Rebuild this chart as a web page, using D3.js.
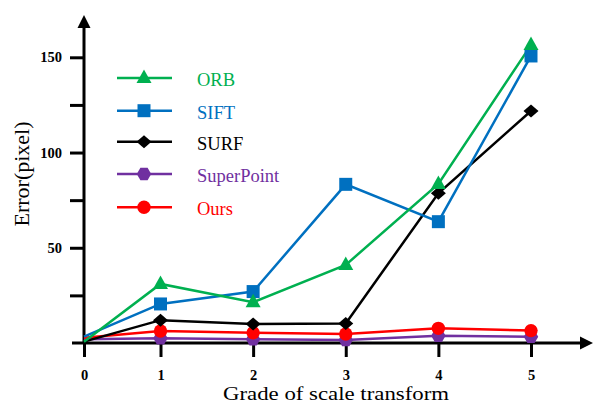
<!DOCTYPE html>
<html><head><meta charset="utf-8">
<script src="https://cdn.jsdelivr.net/npm/d3@7"></script>
<style>
html,body{margin:0;padding:0;background:#fff;}
svg{display:block;}
text{font-family:"Liberation Serif","Times New Roman",serif;}
</style></head>
<body><svg id="c" width="593" height="404"></svg>
<script>
const grades = [0, 1, 2, 3, 4, 5];
const seriesNames = ["ORB", "SIFT", "SURF", "SuperPoint", "Ours"];
const orb = [0.7, 31, 21.4, 41, 83.5, 156.4];
const sift = [3.3, 20.5, 27, 83.3, 63.7, 150.7];
const surf = [0.7, 12, 10, 10.3, 78.6, 121.8];
const superPoint = [2, 2.5, 2, 1.6, 3.8, 3.3];
const ours = [2.8, 6.3, 5.4, 4.7, 7.7, 6.5];
const yTicks = [25, 50, 75, 100, 125, 150];
const yLabels = [50, 100, 150];
const xTicks = [0, 1, 2, 3, 4, 5];

const colors = ["#00B050", "#0070C0", "#000000", "#7030A0", "#FF0000"];
const data = [orb, sift, surf, superPoint, ours];

const svg = d3.select("#c");
const x = d3.scaleLinear().domain([0, 1, 5]).range([84, 160.5, 531]);
const y = d3.scaleLinear().domain([0, 150]).range([343, 57.3]);

function polyPath(n, r, rot){
  const pts = d3.range(n).map(i => {const a = rot + 2*Math.PI/n*i; return [r*Math.cos(a), r*Math.sin(a)];});
  return "M" + pts.map(p => p.map(v => v.toFixed(2)).join(",")).join("L") + "Z";
}
function markerPath(i){
  switch(i){
    case 0: return "M0,-8.5L7.5,5L-7.5,5Z";
    case 1: return "M-6.5,-6.5H6.5V6.5H-6.5Z";
    case 2: return "M0,-6.5L7.5,0L0,6.5L-7.5,0Z";
    case 3: return polyPath(6, 7.2, 0);
    default: return d3.symbol().type(d3.symbolCircle).size(140)();
  }
}

// Axes
const yAxis = d3.axisLeft(y).tickValues(yTicks).tickSize(14).tickSizeOuter(0)
  .tickFormat(d => yLabels.includes(d) ? d : "").tickPadding(8);
const gy = svg.append("g").attr("transform", "translate(84,0)").call(yAxis);
gy.select(".domain").remove();
gy.selectAll(".tick line").attr("stroke", "#000").attr("stroke-width", 3);
gy.selectAll(".tick text").attr("font-size", 14.5).attr("font-weight", "bold")
  .attr("font-family", "Liberation Serif, serif").attr("fill", "#000");

const xAxis = d3.axisBottom(x).tickValues(xTicks).tickSize(14).tickSizeOuter(0)
  .tickPadding(13).tickFormat(d3.format("d"));
const gx = svg.append("g").attr("transform", "translate(0,343)").call(xAxis);
gx.select(".domain").remove();
gx.selectAll(".tick line").attr("stroke", "#000").attr("stroke-width", 3);
gx.selectAll(".tick text").attr("font-size", 14.5).attr("font-weight", "bold")
  .attr("font-family", "Liberation Serif, serif").attr("fill", "#000");

// axis lines with arrows
svg.append("line").attr("x1", 84).attr("x2", 84).attr("y1", 343).attr("y2", 24)
  .attr("stroke", "#000").attr("stroke-width", 3);
svg.append("path").attr("d", "M84,15 L77.5,28 L90.5,28 Z").attr("fill", "#000");
svg.append("line").attr("x1", 72).attr("x2", 582).attr("y1", 343).attr("y2", 343)
  .attr("stroke", "#000").attr("stroke-width", 3);
svg.append("path").attr("d", "M593,343 L580,336.5 L580,349.5 Z").attr("fill", "#000");

// series
const line = d3.line().x((d, i) => x(grades[i])).y(d => y(d));
const drawOrder = [3, 4, 2, 1, 0];
drawOrder.forEach(i => {
  svg.append("path").datum(data[i]).attr("d", line).attr("fill", "none")
    .attr("stroke", colors[i]).attr("stroke-width", 2.5).attr("stroke-linejoin", "miter");
});
drawOrder.forEach(i => {
  const pts = data[i].map((v, j) => ({g: grades[j], v})).filter(p => p.g > 0);
  svg.append("g").selectAll("path").data(pts).join("path")
    .attr("d", markerPath(i))
    .attr("transform", p => `translate(${x(p.g)},${y(p.v)})`)
    .attr("fill", colors[i]);
});

// legend
const legY = [78, 110.7, 141.7, 174, 207.3];
seriesNames.forEach((name, i) => {
  const g = svg.append("g").attr("transform", `translate(0,${legY[i]})`);
  g.append("line").attr("x1", 117).attr("x2", 172).attr("y1", 0).attr("y2", 0)
    .attr("stroke", colors[i]).attr("stroke-width", 2.5);
  g.append("path").attr("d", markerPath(i)).attr("transform", "translate(144,0)").attr("fill", colors[i]);
  g.append("text").attr("x", 197).attr("y", 8).attr("font-size", 18.5).attr("fill", colors[i]).text(name);
});

// titles
svg.append("text").attr("x", 223).attr("y", 399.5)
  .attr("font-size", 18).attr("textLength", 226).attr("lengthAdjust", "spacingAndGlyphs")
  .attr("fill", "#000").text("Grade of scale transform");
svg.append("text").attr("transform", "translate(29,174) rotate(-90)").attr("text-anchor", "middle")
  .attr("font-size", 22).attr("fill", "#000").text("Error(pixel)");
</script></body></html>
